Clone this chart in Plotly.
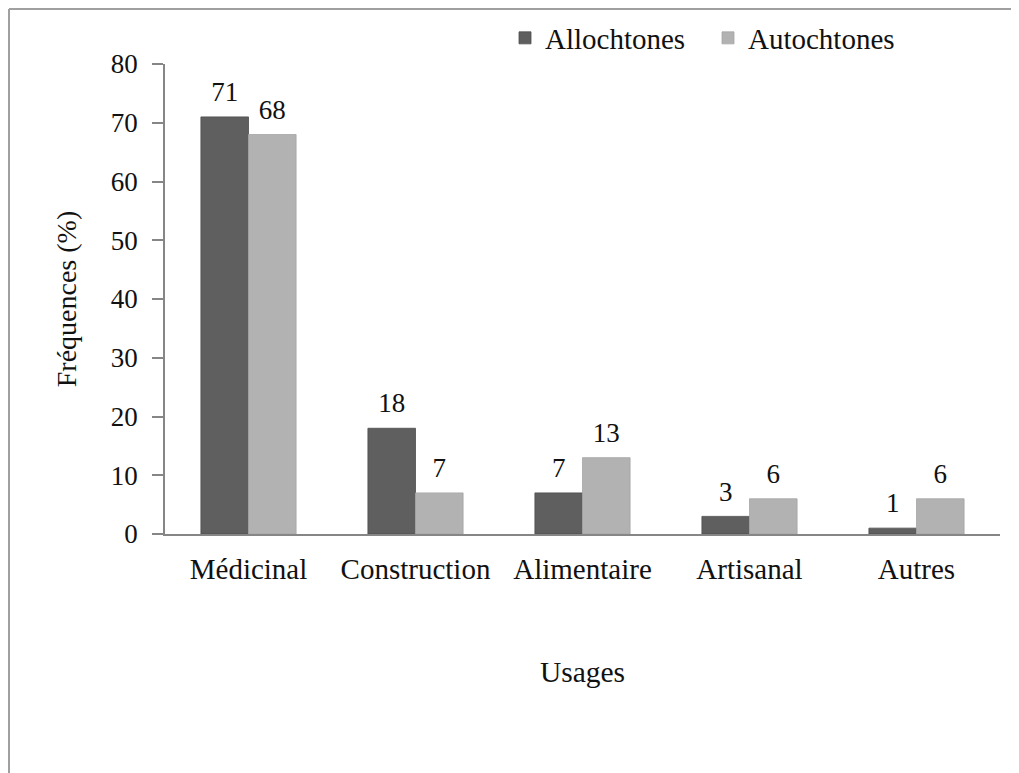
import plotly.graph_objects as go

categories = ["Médicinal", "Construction", "Alimentaire", "Artisanal", "Autres"]
allochtones = [71, 18, 7, 3, 1]
autochtones = [68, 7, 13, 6, 6]
series_names = ["Allochtones", "Autochtones"]
y_ticks = [0, 10, 20, 30, 40, 50, 60, 70, 80]

FONT = "Liberation Serif, Times New Roman, serif"
TXT = "#111"
DARK = "#5f5f5f"
LIGHT = "#b2b2b2"

# figure coordinates (page is offset by the 8px body margin)
L, R, T, B = 157, 27, 56, 247
PW = 1019 - L - R
PH = 773 - T - B

fig = go.Figure()
series = [(series_names[0], allochtones, DARK, "#4d4d4d"), (series_names[1], autochtones, LIGHT, "#a6a6a6")]
for i, (name, vals, col, edge) in enumerate(series):
    fig.add_trace(go.Bar(
        x=categories, y=vals, name=name, offsetgroup=str(i),
        marker=dict(color=col, line=dict(width=0.8, color=edge)),
    ))
for i, (name, vals, col, edge) in enumerate(series):
    fig.add_trace(go.Scatter(
        x=categories, y=vals, name=name + " labels", offsetgroup=str(i),
        mode="markers+text", text=[str(v) for v in vals], textposition="top center",
        marker=dict(size=13, color="rgba(0,0,0,0)"),
        textfont=dict(family=FONT, size=27, color=TXT),
        showlegend=False, hoverinfo="skip", cliponaxis=False,
    ))

fig.update_layout(
    width=1019, height=773,
    paper_bgcolor="white", plot_bgcolor="white",
    margin=dict(l=L, r=R, t=T, b=B, autoexpand=False),
    barmode="group", bargap=0.43, bargroupgap=0,
    scattermode="group", scattergap=0.43,
    font=dict(family=FONT, size=27, color=TXT),
    showlegend=True,
    legend=dict(orientation="h", x=(497 - L) / PW, y=(773 - B - 30) / PH, xanchor="left", yanchor="middle",
                font=dict(family=FONT, size=29, color=TXT), entrywidth=158, entrywidthmode="pixels",
                bgcolor="rgba(0,0,0,0)", traceorder="normal"),
    xaxis=dict(showline=True, linecolor="#868686", linewidth=1.5, ticks="",
               showgrid=False, ticklabelstandoff=8, tickfont=dict(size=29),
               title=dict(text="Usages", standoff=78, font=dict(family=FONT, size=29.5, color=TXT))),
    yaxis=dict(range=[0, 80], tickvals=y_ticks, showline=True, linecolor="#868686", linewidth=1.5,
               ticks="outside", ticklen=11, tickcolor="#868686", tickwidth=1.5,
               showgrid=False, zeroline=False, ticklabelstandoff=9, tickfont=dict(size=27),
               title=dict(text="Fréquences (%)", standoff=26, font=dict(family=FONT, size=28, color=TXT))),
    shapes=[
        dict(type="line", xref="paper", yref="paper", x0=(1 - L) / PW, x1=(1030 - L) / PW,
             y0=(773 - B - 1) / PH, y1=(773 - B - 1) / PH, line=dict(color="#a0a0a0", width=2)),
        dict(type="line", xref="paper", yref="paper", x0=(1 - L) / PW, x1=(1 - L) / PW,
             y0=(773 - B - 1) / PH, y1=(773 - B - 780) / PH, line=dict(color="#a0a0a0", width=2)),
    ],
)

fig.write_html("out.html")
